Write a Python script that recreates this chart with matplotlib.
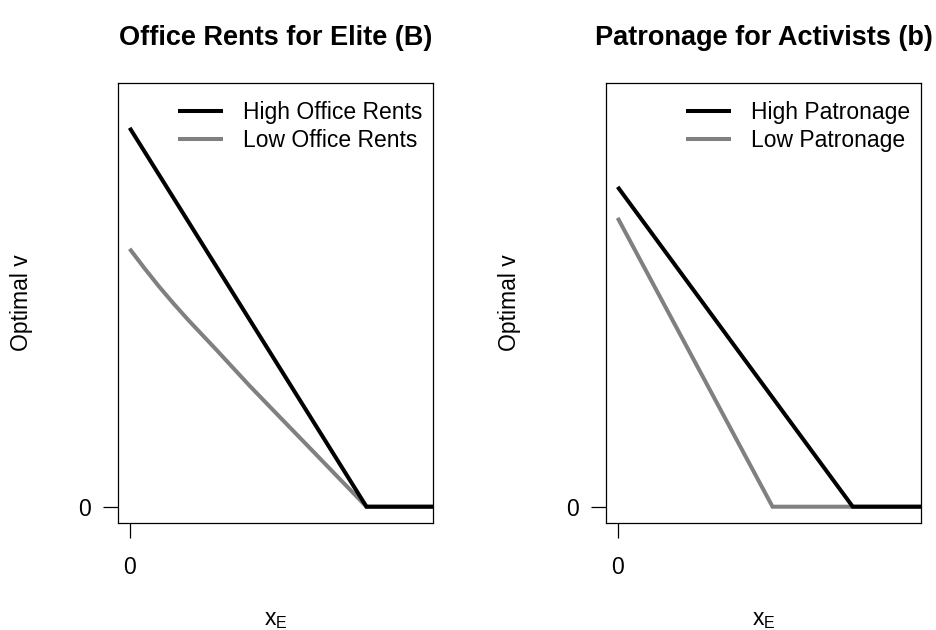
import matplotlib
matplotlib.use("Agg")
import matplotlib.pyplot as plt

plt.rcParams['font.family'] = ['Liberation Sans', 'DejaVu Sans']
plt.rcParams['mathtext.fontset'] = 'custom'
plt.rcParams['mathtext.rm'] = 'Liberation Sans'

titles = ['Office Rents for Elite (B)', 'Patronage for Activists (b)']
labels_left = ['High Office Rents', 'Low Office Rents']
labels_right = ['High Patronage', 'Low Patronage']

# panel 1: office rents for elite
left_high_x = [0, 0.812, 1.05]
left_high_y = [0.93, 0, 0]
left_low_x = [0, 0.05, 0.1, 0.15, 0.2, 0.3, 0.411, 0.5, 0.607, 0.7, 0.812, 1.05]
left_low_y = [0.633, 0.586, 0.541, 0.499, 0.459, 0.383, 0.297, 0.231, 0.152, 0.083, 0, 0]

# panel 2: patronage for activists
right_high_x = [0, 0.806, 1.05]
right_high_y = [0.785, 0, 0]
right_low_x = [0, 0.531, 1.05]
right_low_y = [0.709, 0, 0]

BASE = 16.5
GREY = '#808080'

fig = plt.figure(figsize=(9.36, 6.3), dpi=100)
ax1 = fig.add_axes([118/936, 107/630, 315/936, 440/630])
ax2 = fig.add_axes([606/936, 107/630, 315/936, 440/630])

panels = [
    (ax1, left_high_x, left_high_y, left_low_x, left_low_y, labels_left, titles[0]),
    (ax2, right_high_x, right_high_y, right_low_x, right_low_y, labels_right, titles[1]),
]

for ax, hx, hy, lx, ly, labs, title in panels:
    low, = ax.plot(lx, ly, color=GREY, lw=2.9, solid_capstyle='butt', solid_joinstyle='miter')
    high, = ax.plot(hx, hy, color='black', lw=2.9, solid_capstyle='butt', solid_joinstyle='miter')
    ax.set_xlim(-0.04, 1.04)
    ax.set_ylim(-0.04, 1.04)
    ax.set_xticks([0])
    ax.set_yticks([0])
    ax.set_xticklabels(['0'])
    ax.set_yticklabels(['0'])
    ax.tick_params(direction='out', length=10.8, width=0.9, labelsize=BASE)
    ax.tick_params(axis='x', pad=13)
    ax.tick_params(axis='y', pad=9)
    for s in ax.spines.values():
        s.set_linewidth(0.9)
    ax.set_xlabel(r'$\mathregular{x_E}$', fontsize=BASE)
    ax.xaxis.set_label_coords(0.5, -0.22)
    ax.xaxis.label.set_va('center')
    ax.set_ylabel('Optimal v', fontsize=BASE)
    ax.yaxis.set_label_coords(-0.305, 0.5)
    ax.yaxis.label.set_va('center')
    ax.text(0.5, 1.102, title, transform=ax.transAxes, ha='center', va='center',
            fontsize=19.5, fontweight='bold')
    ax.legend([high, low], labs, loc='upper right', bbox_to_anchor=(0.965, 0.958),
              frameon=False, fontsize=BASE, handlelength=1.96, handletextpad=0.87,
              labelspacing=0.18, borderpad=0, borderaxespad=0)

fig.savefig('out.png', dpi=100)
